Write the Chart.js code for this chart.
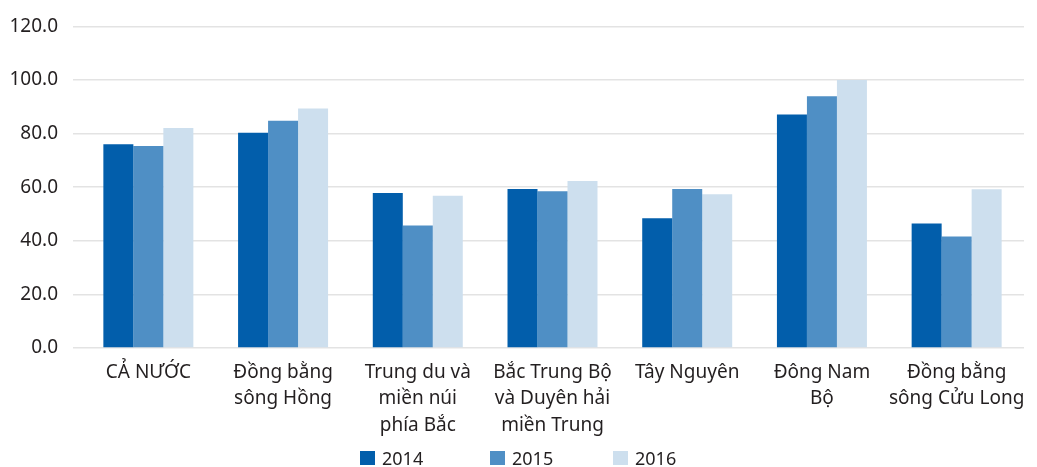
<!DOCTYPE html>
<html>
<head>
<meta charset="utf-8">
<script src="https://cdn.jsdelivr.net/npm/chart.js@4"></script>
<style>
  html, body { margin: 0; padding: 0; background: #fff; }
  body { width: 1037px; height: 467px; overflow: hidden; font-family: "Noto Sans", sans-serif; }
  #wrap { position: relative; width: 1037px; height: 447px; }
  #legend { position: absolute; top: 449px; left: 0; width: 1037px; height: 18px; }
  .item { position: absolute; top: 0; display: flex; align-items: center; font-size: 18px; color: #231f20; line-height: 18px; }
  .box { width: 15px; height: 14px; margin-right: 7px; }
</style>
</head>
<body>
<div id="wrap"><canvas id="chart"></canvas></div>
<div id="legend"></div>
<script>
// ── Data ──────────────────────────────────────────────
const categories = [
  "CẢ NƯỚC",
  ["Đồng bằng", "sông Hồng"],
  ["Trung du và", "miền núi", "phía Bắc"],
  ["Bắc Trung Bộ", "và Duyên hải", "miền Trung"],
  "Tây Nguyên",
  ["Đông Nam", "Bộ"],
  ["Đồng bằng", "sông Cửu Long"]
];
const years   = ["2014", "2015", "2016"];
const v2014   = [76.0, 80.3, 57.8, 59.3, 48.4, 87.1, 46.5];
const v2015   = [75.4, 84.8, 45.7, 58.5, 59.3, 93.9, 41.6];
const v2016   = [82.1, 89.4, 56.8, 62.3, 57.4, 100.0, 59.2];
const yTicks  = [0, 20, 40, 60, 80, 100, 120];
const colors  = ["#025eab", "#4f8fc5", "#cddfee"];

const FONT = "'Noto Sans', sans-serif";
const TXT  = "#231f20";

const series = [v2014, v2015, v2016];
const datasets = years.map((y, i) => ({
  label: y,
  data: series[i],
  backgroundColor: colors[i],
  borderWidth: 0,
  barPercentage: 1,
  categoryPercentage: 0.668
}));

new Chart(document.getElementById("chart"), {
  type: "bar",
  data: { labels: categories, datasets },
  options: {
    responsive: true,
    maintainAspectRatio: false,
    animation: false,
    layout: { padding: { left: 0, right: 13, top: 23, bottom: 0 } },
    plugins: {
      legend: { display: false },
      tooltip: { enabled: false }
    },
    scales: {
      x: {
        grid: { display: false },
        border: { display: false },
        ticks: {
          color: TXT,
          padding: 3,
          maxRotation: 0,
          autoSkip: false,
          font: { family: FONT, size: 19, lineHeight: 1.4 }
        },
        afterFit: s => { s.height = 99; }
      },
      y: {
        min: 0,
        max: 120,
        afterBuildTicks: s => { s.ticks = yTicks.map(v => ({ value: v })); },
        grid: { color: "#e3e3e3", lineWidth: 1.5, tickLength: 8, tickColor: "#e3e3e3", drawTicks: true },
        border: { display: false },
        ticks: {
          color: TXT,
          padding: 15,
          font: { family: FONT, size: 19 },
          callback: v => v.toFixed(1)
        },
        afterFit: s => { s.width = 81; }
      }
    }
  }
});

// ── HTML legend ───────────────────────────────────────
const legendX = [360, 490, 613];
const legendEl = document.getElementById("legend");
years.forEach((y, i) => {
  const it = document.createElement("div");
  it.className = "item";
  it.style.left = legendX[i] + "px";
  it.innerHTML = `<span class="box" style="background:${colors[i]}"></span><span>${y}</span>`;
  legendEl.appendChild(it);
});
</script>
</body>
</html>
